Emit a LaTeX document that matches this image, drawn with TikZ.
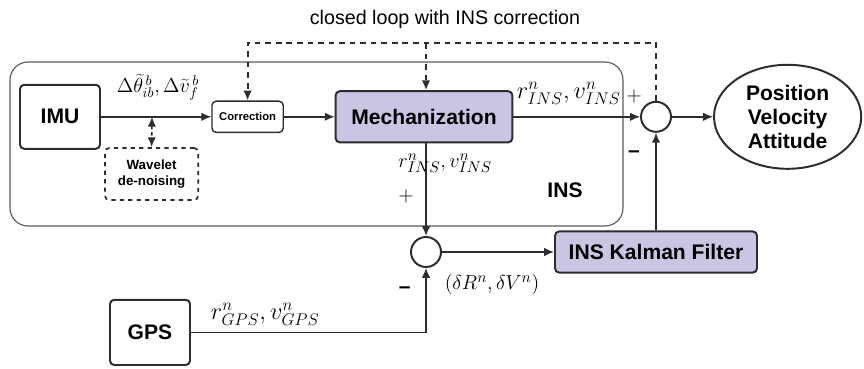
\documentclass[tikz,border=0pt]{standalone}
\usepackage{fontspec}
\setmainfont{Liberation Sans}
\usetikzlibrary{
  arrows.meta,
  shapes.geometric,
}
\definecolor{boxline}{RGB}{45,45,45}
\definecolor{mechfill}{RGB}{201,198,227}

\begin{document}
\begin{tikzpicture}[
  >={Latex[length=7pt,width=6pt]},
  blk/.style={draw=boxline,line width=1.4pt,rounded corners=3pt,align=center,
    font=\fontsize{15}{17}\selectfont\bfseries,inner sep=0pt},
  sumnode/.style={circle,draw=boxline,line width=1.4pt,minimum size=0.75cm,inner sep=0pt},
  conn/.style={draw=boxline,line width=1pt},
  loopline/.style={draw=boxline,line width=1.3pt,dash pattern=on 4pt off 3.5pt},
  lbl/.style={font=\fontsize{17}{19}\selectfont,inner sep=0pt},
  sign/.style={font=\fontsize{15}{17}\selectfont,inner sep=0pt},
]
\useasboundingbox (0,0) rectangle (21.6,9.2);
\draw[draw=gray!70!black,line width=0.8pt,rounded corners=0.45cm] (0.25,3.55) rectangle (15.575,7.65);

\node[blk,minimum width=2cm,minimum height=1.6cm] (imu) at (1.5,6.28) {IMU};
\node[blk,line width=1pt,minimum width=1.78cm,minimum height=0.78cm,
  font=\fontsize{8}{9}\selectfont\bfseries] (corr) at (6.19,6.28) {Correction};
\node[blk,fill=mechfill,minimum width=4.42cm,minimum height=1.28cm] (mech) at (10.6,6.28) {Mechanization};
\node[sumnode] (sum1) at (16.4,6.28) {};
\node[ellipse,draw=boxline,line width=1.4pt,minimum width=3.68cm,minimum height=2.6cm,align=center,
  font=\fontsize{15}{17}\selectfont\bfseries,inner sep=0pt] (pva) at (19.69,6.28) {Position\\Velocity\\Attitude};
\node[blk,dashed,line width=1.2pt,minimum width=2.33cm,minimum height=1.3cm,
  font=\fontsize{9.5}{11}\selectfont\bfseries] (wav) at (3.79,4.85) {Wavelet\\de-noising};
\node[sumnode] (sum2) at (10.65,2.9) {};
\node[blk,fill=mechfill,minimum width=5.05cm,minimum height=1.03cm] (kf) at (16.4,2.9) {INS Kalman Filter};
\node[blk,minimum width=2cm,minimum height=1.63cm] (gps) at (3.75,0.89) {GPS};

\node[font=\fontsize{15}{17}\selectfont\bfseries] (ins) at (14.125,4.45) {INS};
\node[font=\fontsize{14}{16}\selectfont] (title) at (11.125,8.72) {closed loop with INS correction};

\coordinate (tap) at (3.8,6.28);
\coordinate (looptop) at (10.65,8.125);

\draw[conn,->] (imu) -- (corr);
\draw[conn,->] (corr) -- (mech);
\draw[conn,->] (mech) -- (sum1);
\draw[conn,->] (sum1) -- (pva);
\draw[conn,->] (kf.north) -- (sum1.south);
\draw[conn,->] (mech.south -| sum2) -- (sum2.north);
\draw[conn,->] (sum2) -- (kf);
\draw[conn,->] (gps.east) -| (sum2.south);
\draw[boxline,line width=1.2pt,dash pattern=on 2.5pt off 2pt,<->] (tap) -- (wav.north);
\draw[loopline,->] (sum1.north) |- (looptop) -| (corr.north);
\draw[loopline,->] (looptop) -- (looptop |- mech.north);

\node[lbl,font=\fontsize{14}{16}\selectfont] (dlbl) at (3.95,7.02)
  {$\Delta\widetilde{\theta}_{ib}^{\,b},\Delta\widetilde{v}_{f}^{\,b}$};
\node[lbl] (rins1) at (14.22,6.87) {$r^n_{INS},v^n_{INS}$};
\node[lbl,font=\fontsize{15.5}{17}\selectfont] (rins2) at (11.13,5.12) {$r^n_{INS},v^n_{INS}$};
\node[lbl,font=\fontsize{18}{20}\selectfont] (rgps) at (6.63,1.35) {$r^n_{GPS},v^n_{GPS}$};
\node[lbl,font=\fontsize{15}{17}\selectfont] (dlt) at (12.3,2.1) {$\Bigl(\delta R^n,\delta V^n\Bigr)$};
\node[sign] (plus1) at (15.85,6.8) {$+$};
\node[sign,font=\fontsize{15}{17}\selectfont\bfseries] (minus1) at (15.85,5.35) {--};
\node[sign] (plus2) at (10.15,4.3) {$+$};
\node[sign,font=\fontsize{15}{17}\selectfont\bfseries] (minus2) at (10.12,1.95) {--};
\end{tikzpicture}
\end{document}
